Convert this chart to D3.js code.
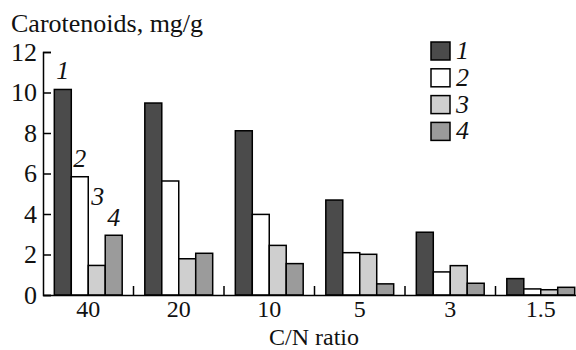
<!DOCTYPE html>
<html>
<head>
<meta charset="utf-8">
<script src="https://cdn.jsdelivr.net/npm/d3@7"></script>
<style>
  body { margin: 0; background: #fff; }
  svg text { font-family: "Liberation Serif", "Times New Roman", serif; fill: #111; }
</style>
</head>
<body>
<svg id="chart" width="576" height="350"></svg>
<script>
const categories = ["40", "20", "10", "5", "3", "1.5"];
const seriesNames = ["1", "2", "3", "4"];
const series1 = [10.15, 9.48, 8.11, 4.69, 3.1, 0.81];
const series2 = [5.84, 5.63, 3.98, 2.09, 1.14, 0.3];
const series3 = [1.46, 1.79, 2.45, 2.01, 1.45, 0.26];
const series4 = [2.95, 2.06, 1.55, 0.55, 0.58, 0.38];
const yTicks = [0, 2, 4, 6, 8, 10, 12];
const yTitle = "Carotenoids, mg/g";
const xTitle = "C/N ratio";

const allSeries = [series1, series2, series3, series4];
const colors = ["#4b4b4b", "#ffffff", "#cfcfcf", "#9b9b9b"];
const FS = 26;

const svg = d3.select("#chart");
const x0 = d3.scaleBand().domain(categories).range([43, 586]).paddingInner(0.25).paddingOuter(0.125);
const x1 = d3.scaleBand().domain(seriesNames).range([0, x0.bandwidth()]);
const y = d3.scaleLinear().domain([0, 12]).range([295, 52]);

// bars
const rows = categories.map((c, i) => ({ cat: c, vals: allSeries.map((s, j) => ({ name: seriesNames[j], v: s[i], k: j })) }));
const g = svg.append("g");
g.selectAll("g.grp").data(rows).join("g")
  .attr("transform", d => `translate(${x0(d.cat)},0)`)
  .selectAll("rect").data(d => d.vals).join("rect")
  .attr("x", d => x1(d.name))
  .attr("width", x1.bandwidth())
  .attr("y", d => y(d.v))
  .attr("height", d => y(0) - y(d.v))
  .attr("fill", d => colors[d.k])
  .attr("stroke", "#000")
  .attr("stroke-width", 1.5);

// y axis
const yAxis = d3.axisLeft(y).tickValues(yTicks).tickSize(-8).tickPadding(6).tickFormat(d3.format("d"));
const ya = svg.append("g").attr("transform", "translate(43,0)").call(yAxis);
ya.select(".domain").attr("stroke", "#000").attr("stroke-width", 1.5);
ya.selectAll(".tick line").attr("stroke", "#000").attr("stroke-width", 1.5);
ya.selectAll(".tick text").attr("font-size", FS).attr("fill", "#111");

// x axis
const xAxis = d3.axisBottom(x0).tickSize(0).tickPadding(5);
const xa = svg.append("g").attr("transform", `translate(0,${y(0)})`).call(xAxis);
xa.select(".domain").attr("stroke", "#000").attr("stroke-width", 1.5);
xa.selectAll(".tick text").attr("font-size", 24).attr("fill", "#111");
// separators between groups
const seps = categories.slice(1).map(c => x0(c) - x0.step() * x0.paddingInner() / 2);
svg.append("g").selectAll("line").data(seps).join("line")
  .attr("x1", d => d).attr("x2", d => d)
  .attr("y1", y(0)).attr("y2", y(0) - 9)
  .attr("stroke", "#000").attr("stroke-width", 1.5);

// titles
svg.append("text").attr("x", 11).attr("y", 32).attr("font-size", FS).text(yTitle);
svg.append("text").attr("x", 314).attr("y", 344.5).attr("text-anchor", "middle").attr("font-size", 24).text(xTitle);

// series labels above the first group
const labelOffsets = [{ dx: 0, dy: -10 }, { dx: 0, dy: -10 }, { dx: 1, dy: -60 }, { dx: 0, dy: -9 }];
svg.append("g").selectAll("text").data(rows[0].vals).join("text")
  .attr("x", d => x0(rows[0].cat) + x1(d.name) + x1.bandwidth() / 2 + labelOffsets[d.k].dx)
  .attr("y", d => y(d.v) + labelOffsets[d.k].dy)
  .attr("text-anchor", "middle")
  .attr("font-size", FS).attr("font-style", "italic")
  .text(d => d.name);

// legend
const lg = svg.append("g").attr("transform", "translate(431,42)");
const items = lg.selectAll("g").data(seriesNames).join("g").attr("transform", (d, i) => `translate(0,${i * 26.8})`);
items.append("rect").attr("width", 19).attr("height", 18).attr("fill", (d, i) => colors[i]).attr("stroke", "#000").attr("stroke-width", 1.5);
items.append("text").attr("x", 25).attr("y", 17).attr("font-size", FS).attr("font-style", "italic").text(d => d);
</script>
</body>
</html>
